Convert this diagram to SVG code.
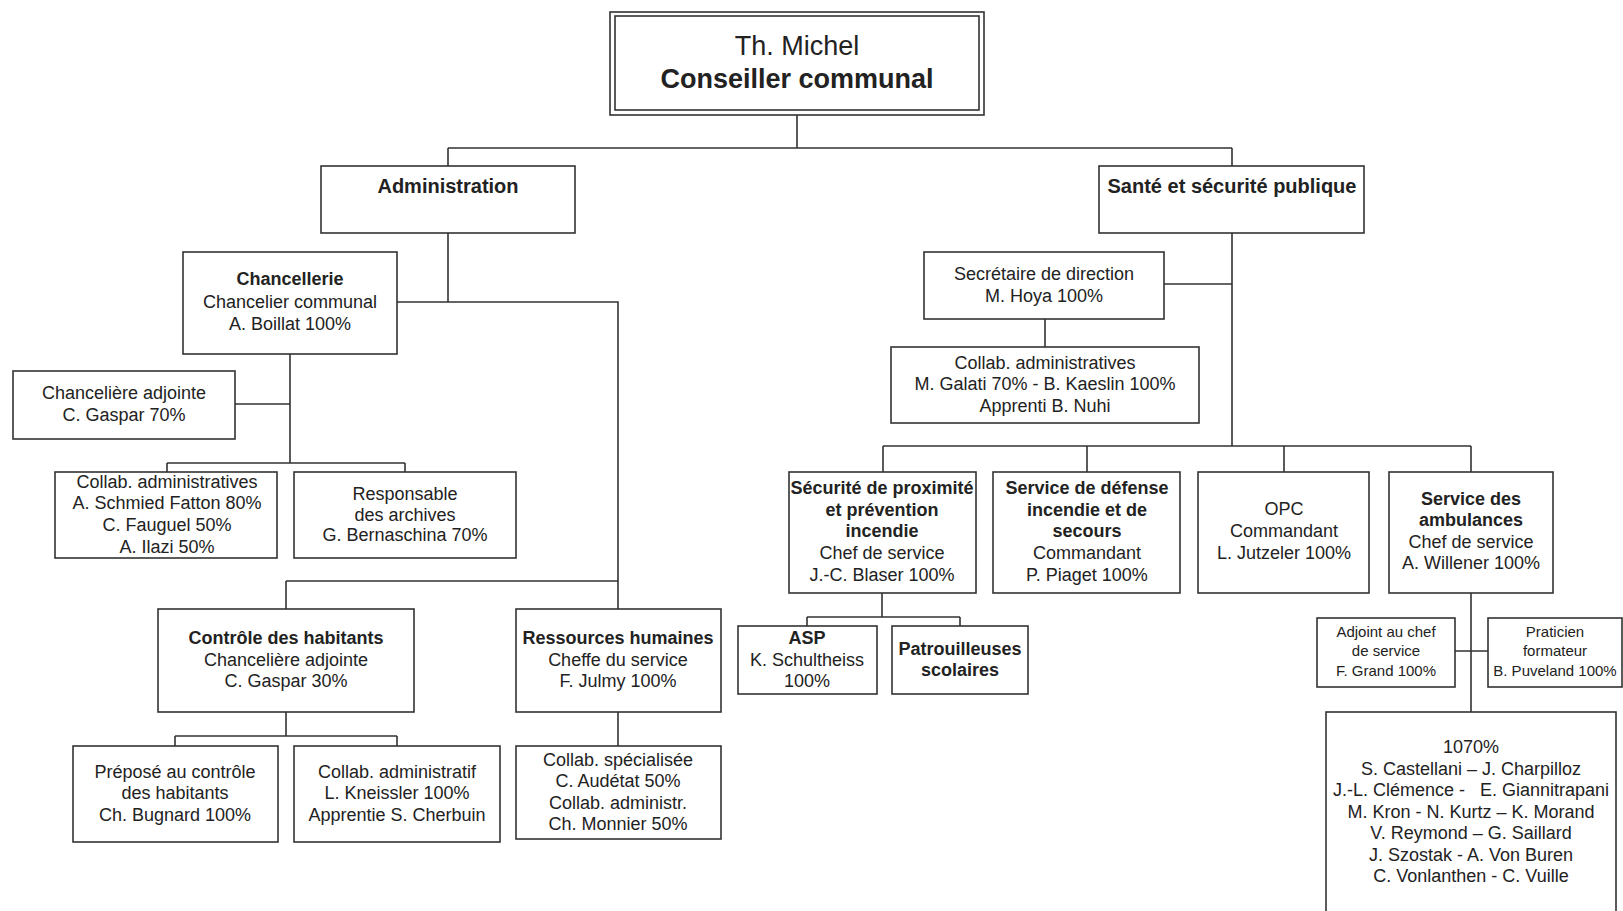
<svg xmlns="http://www.w3.org/2000/svg" width="1623" height="911" viewBox="0 0 1623 911">
<style>
.b{fill:#fff;stroke:#333;stroke-width:1.6}
.t{font-family:"Liberation Sans",Arial,sans-serif;font-size:18px;fill:#222;text-anchor:middle}
.s{font-size:15px}
.h{font-size:20px;font-weight:bold}
.k{font-weight:bold}
.c{fill:none;stroke:#333;stroke-width:1.6}
</style>
<rect width="1623" height="911" fill="#fff"/>
<g id="connectors" class="c">
<path d="M797 115V148M448 148H1232M448 148V166M1232 148V166"/>
<path d="M448 233V302M397 302H618V609M286 581H618M286 581V609"/>
<path d="M290 354V463M235 404H290M167 463H405M167 463V472M405 463V472"/>
<path d="M286 712V736M175 736H397M175 736V746M397 736V746M618 712V746"/>
<path d="M1232 233V446M1164 284H1232M1045 319V347M883 446H1471M883 446V472M1087 446V472M1284 446V472M1471 446V472"/>
<path d="M882 593V617M807 617H960M807 617V626M960 617V626"/>
<path d="M1471 593V712M1455 651H1488"/>
</g>
<g id="top">
<rect class="b" x="610" y="12" width="374" height="103" stroke-width="2"/>
<rect class="b" x="615" y="16" width="364" height="94" stroke-width="1.2"/>
<text class="t" x="797" y="55" style="font-size:27px">Th. Michel</text>
<text class="t k" x="797" y="88" style="font-size:27px">Conseiller communal</text>
</g>
<g id="administration">
<rect class="b" x="321" y="166" width="254" height="67"/>
<text class="t h" x="448" y="193">Administration</text>
</g>
<g id="sante">
<rect class="b" x="1099" y="166" width="265" height="67"/>
<text class="t h" x="1232" y="193">Santé et sécurité publique</text>
</g>
<g id="chancellerie">
<rect class="b" x="183" y="252" width="214" height="102"/>
<text class="t k" x="290" y="285">Chancellerie</text>
<text class="t" x="290" y="308">Chancelier communal</text>
<text class="t" x="290" y="330">A. Boillat 100%</text>
</g>
<g id="chanceliere-adjointe">
<rect class="b" x="13" y="371" width="222" height="68"/>
<text class="t" x="124" y="399">Chancelière adjointe</text>
<text class="t" x="124" y="421">C. Gaspar 70%</text>
</g>
<g id="collab-adm-left">
<rect class="b" x="55" y="472" width="222" height="86"/>
<text class="t" x="167" y="488">Collab. administratives</text>
<text class="t" x="167" y="509">A. Schmied Fatton 80%</text>
<text class="t" x="167" y="531">C. Fauguel 50%</text>
<text class="t" x="167" y="553">A. Ilazi 50%</text>
</g>
<g id="archives">
<rect class="b" x="294" y="472" width="222" height="86"/>
<text class="t" x="405" y="500">Responsable</text>
<text class="t" x="405" y="521">des archives</text>
<text class="t" x="405" y="541">G. Bernaschina 70%</text>
</g>
<g id="controle">
<rect class="b" x="158" y="609" width="256" height="103"/>
<text class="t k" x="286" y="644">Contrôle des habitants</text>
<text class="t" x="286" y="666">Chancelière adjointe</text>
<text class="t" x="286" y="687">C. Gaspar 30%</text>
</g>
<g id="rh">
<rect class="b" x="516" y="609" width="205" height="103"/>
<text class="t k" x="618" y="644">Ressources humaines</text>
<text class="t" x="618" y="666">Cheffe du service</text>
<text class="t" x="618" y="687">F. Julmy 100%</text>
</g>
<g id="prepose">
<rect class="b" x="73" y="746" width="205" height="96"/>
<text class="t" x="175" y="778">Préposé au contrôle</text>
<text class="t" x="175" y="799">des habitants</text>
<text class="t" x="175" y="821">Ch. Bugnard 100%</text>
</g>
<g id="collab-administratif">
<rect class="b" x="294" y="746" width="206" height="96"/>
<text class="t" x="397" y="778">Collab. administratif</text>
<text class="t" x="397" y="799">L. Kneissler 100%</text>
<text class="t" x="397" y="821">Apprentie S. Cherbuin</text>
</g>
<g id="rh-collab">
<rect class="b" x="516" y="746" width="205" height="93"/>
<text class="t" x="618" y="766">Collab. spécialisée</text>
<text class="t" x="618" y="787">C. Audétat 50%</text>
<text class="t" x="618" y="809">Collab. administr.</text>
<text class="t" x="618" y="830">Ch. Monnier 50%</text>
</g>
<g id="secretaire">
<rect class="b" x="924" y="252" width="240" height="67"/>
<text class="t" x="1044" y="280">Secrétaire de direction</text>
<text class="t" x="1044" y="302">M. Hoya 100%</text>
</g>
<g id="collab-adm-right">
<rect class="b" x="891" y="347" width="308" height="76"/>
<text class="t" x="1045" y="369">Collab. administratives</text>
<text class="t" x="1045" y="390">M. Galati 70% - B. Kaeslin 100%</text>
<text class="t" x="1045" y="412">Apprenti B. Nuhi</text>
</g>
<g id="securite">
<rect class="b" x="789" y="472" width="187" height="121"/>
<text class="t k" x="882" y="494">Sécurité de proximité</text>
<text class="t k" x="882" y="516">et prévention</text>
<text class="t k" x="882" y="537">incendie</text>
<text class="t" x="882" y="559">Chef de service</text>
<text class="t" x="882" y="581">J.-C. Blaser 100%</text>
</g>
<g id="defense">
<rect class="b" x="993" y="472" width="187" height="121"/>
<text class="t k" x="1087" y="494">Service de défense</text>
<text class="t k" x="1087" y="516">incendie et de</text>
<text class="t k" x="1087" y="537">secours</text>
<text class="t" x="1087" y="559">Commandant</text>
<text class="t" x="1087" y="581">P. Piaget 100%</text>
</g>
<g id="opc">
<rect class="b" x="1198" y="472" width="171" height="121"/>
<text class="t" x="1284" y="515">OPC</text>
<text class="t" x="1284" y="537">Commandant</text>
<text class="t" x="1284" y="559">L. Jutzeler 100%</text>
</g>
<g id="ambulances">
<rect class="b" x="1389" y="472" width="164" height="121"/>
<text class="t k" x="1471" y="505">Service des</text>
<text class="t k" x="1471" y="526">ambulances</text>
<text class="t" x="1471" y="548">Chef de service</text>
<text class="t" x="1471" y="569">A. Willener 100%</text>
</g>
<g id="asp">
<rect class="b" x="738" y="626" width="139" height="68"/>
<text class="t k" x="807" y="644">ASP</text>
<text class="t" x="807" y="666">K. Schultheiss</text>
<text class="t" x="807" y="687">100%</text>
</g>
<g id="patrouilleuses">
<rect class="b" x="892" y="626" width="136" height="68"/>
<text class="t k" x="960" y="655">Patrouilleuses</text>
<text class="t k" x="960" y="676">scolaires</text>
</g>
<g id="adjoint">
<rect class="b" x="1317" y="618" width="138" height="69"/>
<text class="t s" x="1386" y="637">Adjoint au chef</text>
<text class="t s" x="1386" y="656">de service</text>
<text class="t s" x="1386" y="676">F. Grand 100%</text>
</g>
<g id="praticien">
<rect class="b" x="1488" y="618" width="134" height="69"/>
<text class="t s" x="1555" y="637">Praticien</text>
<text class="t s" x="1555" y="656">formateur</text>
<text class="t s" x="1555" y="676">B. Puveland 100%</text>
</g>
<g id="equipe">
<rect class="b" x="1326" y="712" width="290" height="220"/>
<text class="t" x="1471" y="753">1070%</text>
<text class="t" x="1471" y="775">S. Castellani – J. Charpilloz</text>
<text class="t" x="1471" y="796" style="white-space:pre">J.-L. Clémence -   E. Giannitrapani</text>
<text class="t" x="1471" y="818">M. Kron - N. Kurtz – K. Morand</text>
<text class="t" x="1471" y="839">V. Reymond – G. Saillard</text>
<text class="t" x="1471" y="861">J. Szostak - A. Von Buren</text>
<text class="t" x="1471" y="882">C. Vonlanthen - C. Vuille</text>
</g>
</svg>
